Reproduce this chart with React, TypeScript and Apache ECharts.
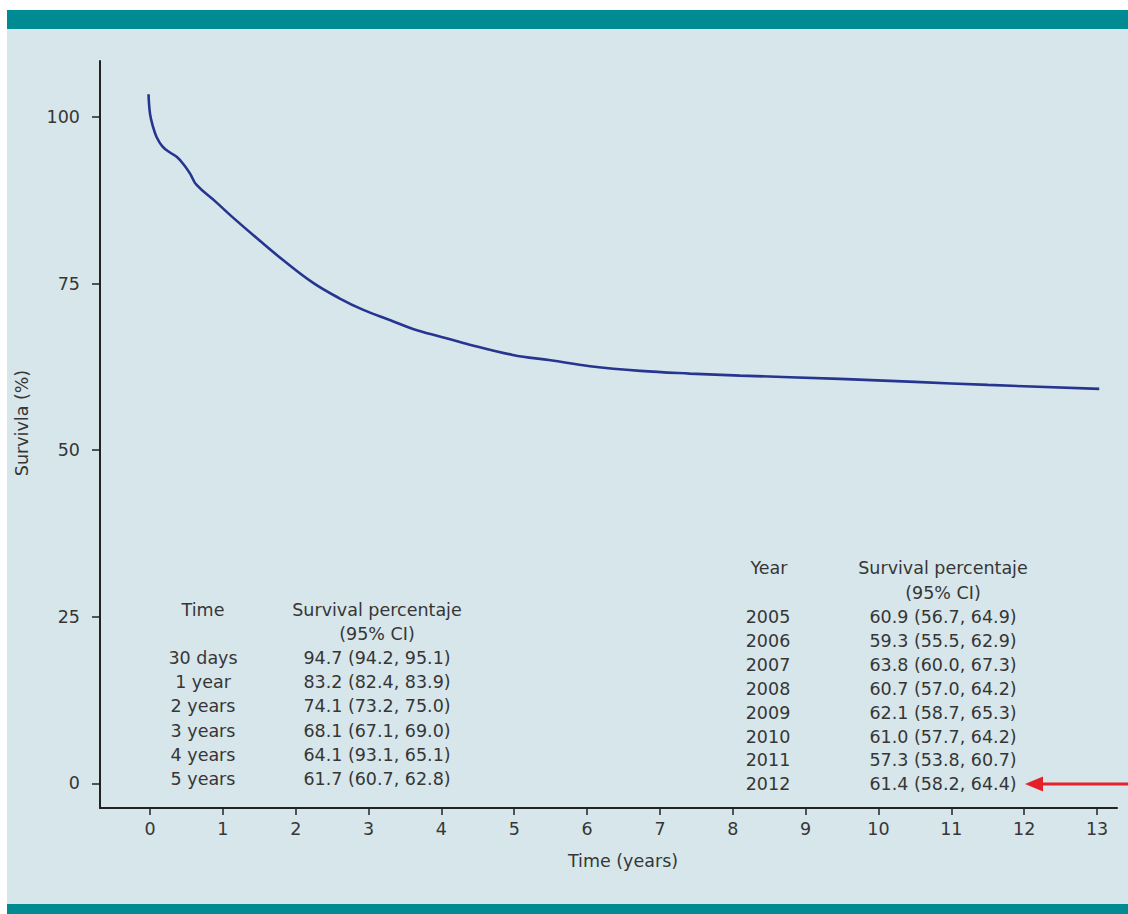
import React, { useEffect, useRef } from "react";
import * as echarts from "echarts";

// Kaplan-Meier style survival curve: [years, survival %]
const curveYears = [-0.02, 0, 0.04, 0.09, 0.17, 0.27, 0.37, 0.46, 0.55, 0.64, 0.9, 1.14, 1.5, 1.83, 2.24, 2.6, 2.92, 3.3, 3.61, 4.0, 4.3, 4.98, 5.5, 6.04, 6.73, 7.41, 8.1, 9.47, 10.5, 11.5, 13.03];
const curveSurvival = [103.4, 100.5, 98.6, 97.0, 95.6, 94.7, 94.0, 92.9, 91.5, 89.8, 87.3, 84.9, 81.5, 78.5, 75.1, 72.8, 71.1, 69.5, 68.2, 67.0, 66.1, 64.3, 63.5, 62.6, 61.9, 61.5, 61.2, 60.7, 60.25, 59.8, 59.2];

const xTicks = [0, 1, 2, 3, 4, 5, 6, 7, 8, 9, 10, 11, 12, 13];
const yTicks = [0, 25, 50, 75, 100];

const timeLabels = ["30 days", "1 year", "2 years", "3 years", "4 years", "5 years"];
const timeValues = ["94.7 (94.2, 95.1)", "83.2 (82.4, 83.9)", "74.1 (73.2, 75.0)", "68.1 (67.1, 69.0)", "64.1 (93.1, 65.1)", "61.7 (60.7, 62.8)"];

const yearLabels = ["2005", "2006", "2007", "2008", "2009", "2010", "2011", "2012"];
const yearValues = ["60.9 (56.7, 64.9)", "59.3 (55.5, 62.9)", "63.8 (60.0, 67.3)", "60.7 (57.0, 64.2)", "62.1 (58.7, 65.3)", "61.0 (57.7, 64.2)", "57.3 (53.8, 60.7)", "61.4 (58.2, 64.4)"];

const FONT = "'DejaVu Sans'";
const FS = 17.5;
const TXT = "#363636";

export default function App() {
  const ref = useRef<HTMLDivElement>(null);

  useEffect(() => {
    if (!ref.current) return;
    const chart = echarts.init(ref.current, null, { renderer: "svg" });

    const txt = (text: string, x: number, y: number, extra: any = {}) => ({
      type: "text",
      x,
      y,
      z: 10,
      style: {
        text,
        fill: TXT,
        font: `${FS}px ${FONT}`,
        align: "center",
        verticalAlign: "middle",
        ...extra,
      },
    });

    const graphics: any[] = [
      { type: "rect", z: -100, shape: { x: 7, y: 29, width: 1121, height: 875 }, style: { fill: "#d7e6ea" } },
      { type: "rect", z: -100, shape: { x: 7, y: 10, width: 1121, height: 19 }, style: { fill: "#008b93" } },
      { type: "rect", z: -100, shape: { x: 7, y: 904, width: 1121, height: 10 }, style: { fill: "#008b93" } },
      { ...txt("Survivla (%)", 22, 423), rotation: Math.PI / 2 },
      txt("Time (years)", 623, 861),
      txt("Time", 203, 610),
      txt("Survival percentaje", 377, 610),
      txt("(95% CI)", 377, 634),
      txt("Year", 769, 568),
      txt("Survival percentaje", 943, 568),
      txt("(95% CI)", 943, 593),
      {
        type: "line",
        z: 10,
        shape: { x1: 1038, y1: 784, x2: 1128, y2: 784 },
        style: { stroke: "#e42128", lineWidth: 3 },
      },
      {
        type: "polygon",
        z: 10,
        shape: { points: [[1025, 784], [1043, 776.5], [1043, 791.5]] },
        style: { fill: "#e42128" },
      },
    ];
    timeLabels.forEach((t, i) => {
      graphics.push(txt(t, 203, 658 + i * 24.2));
      graphics.push(txt(timeValues[i], 377, 658 + i * 24.2));
    });
    yearLabels.forEach((t, i) => {
      graphics.push(txt(t, 768, 617 + i * 23.9));
      graphics.push(txt(yearValues[i], 943, 617 + i * 23.9));
    });

    chart.setOption({
      animation: false,
      backgroundColor: "#ffffff",
      grid: { left: 100, right: 11, top: 61, bottom: 106, containLabel: false },
      xAxis: {
        type: "value",
        min: -0.6863,
        max: 13.274,
        axisLine: { onZero: false, lineStyle: { color: "#222", width: 2 } },
        axisTick: { show: true, customValues: xTicks, length: 7, inside: false, lineStyle: { color: "#222", width: 1.5 } },
        axisLabel: { customValues: xTicks, color: TXT, fontSize: FS, fontFamily: FONT, margin: 12 },
        splitLine: { show: false },
      },
      yAxis: {
        type: "value",
        min: -3.68,
        max: 108.4,
        axisLine: { show: true, onZero: false, lineStyle: { color: "#222", width: 2 } },
        axisTick: { show: true, customValues: yTicks, length: 8, inside: false, lineStyle: { color: "#222", width: 1.5 } },
        axisLabel: { customValues: yTicks, color: TXT, fontSize: FS, fontFamily: FONT, margin: 20 },
        splitLine: { show: false },
      },
      series: [
        {
          type: "line",
          data: curveYears.map((x, i) => [x, curveSurvival[i]]),
          showSymbol: false,
          smooth: 0.4,
          lineStyle: { color: "#26358f", width: 2.6 },
        },
      ],
      graphic: graphics,
    });

    return () => chart.dispose();
  }, []);

  return (
    <div
      ref={ref}
      style={{ position: "fixed", left: 0, top: 0, width: 1128, height: 914 }}
    />
  );
}
